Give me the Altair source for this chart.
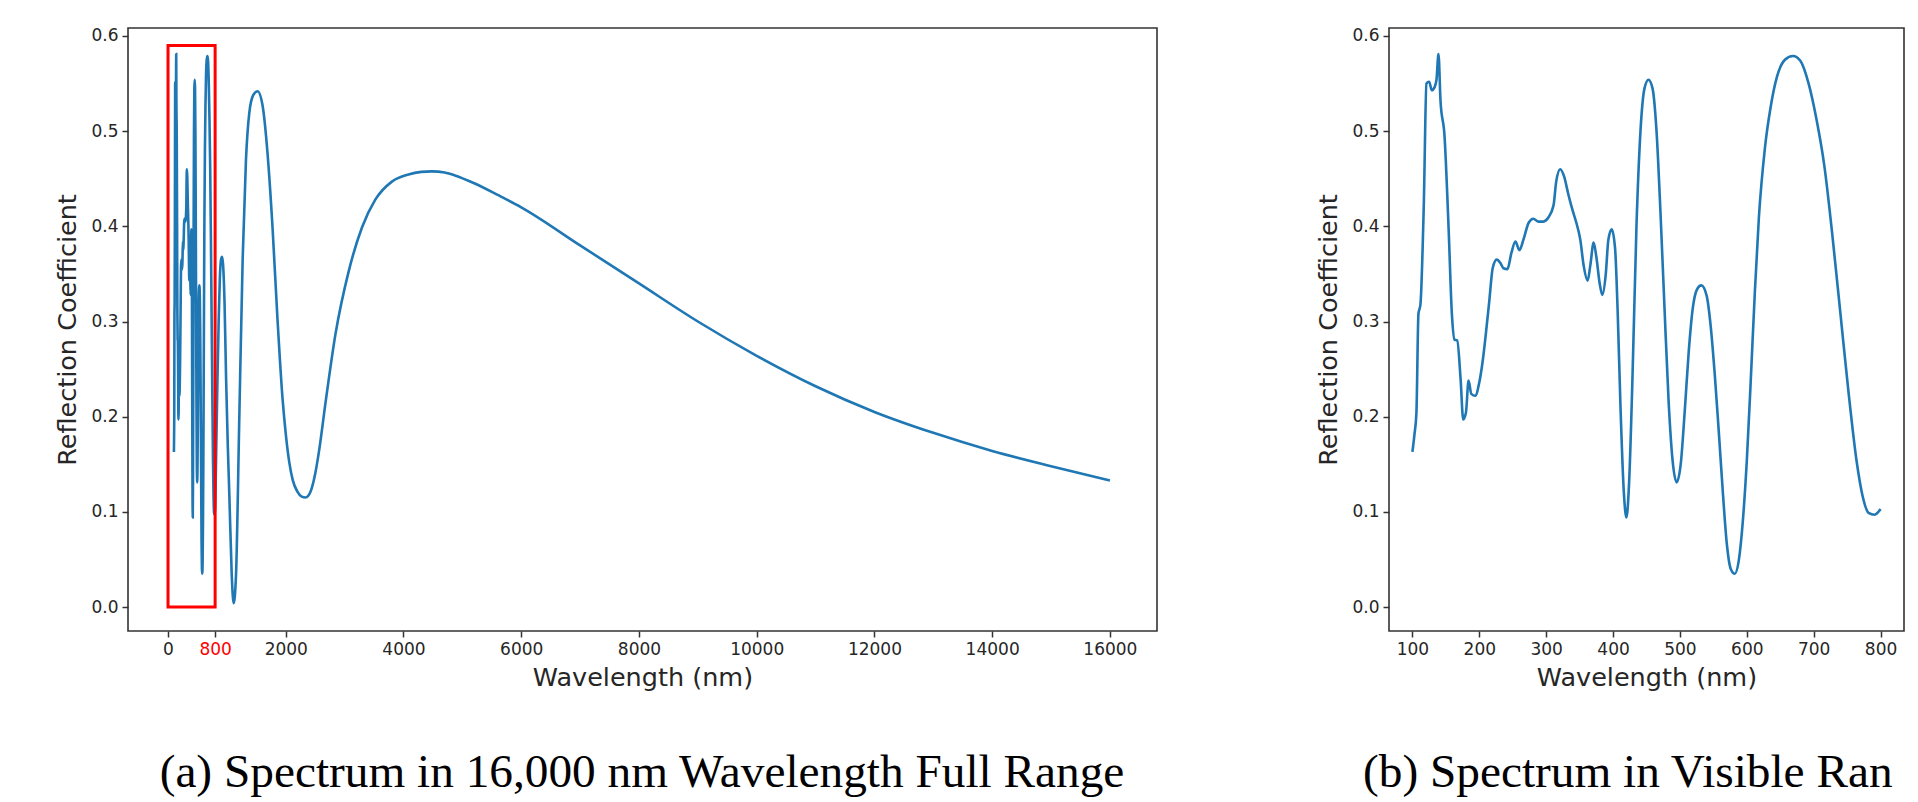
import altair as alt
import pandas as pd

# ---- data ----
vis_wl = [100, 103, 106, 109, 112, 117, 121, 125, 129, 133, 136, 139, 142, 148, 154, 159, 163, 167,
          172, 176, 180, 184, 188, 194, 200, 205, 211, 215, 220, 226, 232, 236, 242, 248, 254, 260,
          266, 274, 281, 288, 296, 303, 311, 315, 321, 327, 333, 339, 345, 351, 356, 362, 366, 371,
          375, 380, 384, 389, 393, 398, 403, 407, 411, 416, 420, 424, 429, 435, 441, 447, 453, 459,
          465, 471, 477, 483, 489, 495, 501, 507, 513, 519, 525, 532, 540, 546, 552, 558, 564, 570,
          576, 582, 588, 594, 600, 606, 612, 618, 627, 636, 645, 657, 669, 680, 692, 704, 716, 728,
          740, 752, 764, 773, 782, 791, 800]
vis_r = [0.163, 0.181, 0.204, 0.308, 0.318, 0.422, 0.550, 0.552, 0.543, 0.546, 0.554, 0.581, 0.532,
         0.495, 0.400, 0.308, 0.281, 0.280, 0.240, 0.197, 0.204, 0.238, 0.224, 0.222, 0.236, 0.258,
         0.295, 0.322, 0.356, 0.365, 0.361, 0.356, 0.355, 0.372, 0.384, 0.375, 0.386, 0.404, 0.408,
         0.405, 0.405, 0.409, 0.422, 0.447, 0.460, 0.452, 0.434, 0.418, 0.404, 0.386, 0.359, 0.343,
         0.359, 0.383, 0.368, 0.340, 0.328, 0.349, 0.386, 0.397, 0.377, 0.308, 0.213, 0.122, 0.094,
         0.131, 0.240, 0.400, 0.500, 0.545, 0.554, 0.545, 0.500, 0.413, 0.313, 0.217, 0.154, 0.131,
         0.149, 0.204, 0.267, 0.313, 0.333, 0.338, 0.327, 0.295, 0.245, 0.185, 0.122, 0.067, 0.040,
         0.035, 0.049, 0.090, 0.154, 0.240, 0.331, 0.409, 0.482, 0.527, 0.557, 0.575, 0.579, 0.574,
         0.551, 0.513, 0.463, 0.390, 0.308, 0.226, 0.154, 0.117, 0.099, 0.097, 0.103]

ir_wl = [820, 840, 860, 880, 900, 918, 935, 960, 986, 1015, 1042, 1082, 1115, 1155, 1211, 1268,
         1324, 1380, 1448, 1521, 1606, 1690, 1775, 1859, 1944, 2000, 2060, 2120, 2200, 2270, 2338,
         2420, 2500, 2563, 2676, 2845, 3070, 3296, 3521, 3803, 4085, 4300, 4479, 4700, 4873, 5211,
         5600, 6000, 7000, 8000, 9000, 10000, 11000, 12000, 13000, 14000, 15000, 16000]
ir_r = [0.170, 0.240, 0.300, 0.345, 0.365, 0.368, 0.360, 0.320, 0.241, 0.170, 0.117, 0.034, 0.004,
        0.034, 0.200, 0.366, 0.470, 0.519, 0.538, 0.542, 0.527, 0.477, 0.399, 0.303, 0.220, 0.182,
        0.152, 0.133, 0.121, 0.116, 0.115, 0.121, 0.140, 0.163, 0.215, 0.287, 0.353, 0.399, 0.428,
        0.447, 0.4545, 0.4572, 0.4578, 0.4565, 0.4535, 0.445, 0.433, 0.420, 0.380, 0.340, 0.300,
        0.264, 0.232, 0.205, 0.183, 0.164, 0.148, 0.133]

box_x = [0, 800]
box_y = [0.0, 0.59]

full_ticks = [0, 800, 2000, 4000, 6000, 8000, 10000, 12000, 14000, 16000]
vis_ticks = [100, 200, 300, 400, 500, 600, 700, 800]
y_ticks = [0.0, 0.1, 0.2, 0.3, 0.4, 0.5, 0.6]
captions = ["(a) Spectrum in 16,000 nm Wavelength Full Range", "(b) Spectrum in Visible Range"]

full_df = pd.DataFrame({"wl": vis_wl + ir_wl, "r": vis_r + ir_r})
vis_df = pd.DataFrame({"wl": vis_wl, "r": vis_r})
box_df = pd.DataFrame({"x": [box_x[0]], "x2": [box_x[1]], "y": [box_y[0]], "y2": [box_y[1]]})

BLUE = "#1f77b4"
TXT = "#262626"
yscale = alt.Scale(domain=[-0.0252, 0.6084], nice=False, zero=False)
xscale_full = alt.Scale(domain=[-680, 16800], nice=False, zero=False)
xscale_vis = alt.Scale(domain=[65, 835], nice=False, zero=False)

common = dict(grid=False, domain=False, tickSize=6, tickColor="#333333", tickWidth=1.5,
              labelFontSize=17, labelColor=TXT, labelPadding=4, labelFont="DejaVu Sans",
              titleFontSize=25.5, titleFontWeight="normal", titleColor=TXT, titleFont="DejaVu Sans")

yaxis = alt.Axis(values=y_ticks, format=".1f", title="Reflection Coefficient", titlePadding=10, **common)
xaxis_full = alt.Axis(values=full_ticks, format="d", title="Wavelength (nm)", titlePadding=8,
                      labelColor={"condition": {"test": "datum.value == 800", "value": "#ff0000"},
                                  "value": TXT},
                      **{k: v for k, v in common.items() if k != "labelColor"})
xaxis_vis = alt.Axis(values=vis_ticks, format="d", title="Wavelength (nm)", titlePadding=8, **common)

W_LEFT, W_RIGHT, H = 1029, 515, 603

left_line = alt.Chart(full_df).mark_line(color=BLUE, strokeWidth=2.6, interpolate="monotone").encode(
    x=alt.X("wl:Q", scale=xscale_full, axis=xaxis_full),
    y=alt.Y("r:Q", scale=yscale, axis=yaxis),
)
left_box = alt.Chart(box_df).mark_rect(fillOpacity=0, stroke="#ff0000", strokeWidth=3).encode(
    x=alt.X("x:Q", scale=xscale_full, axis=xaxis_full),
    x2="x2",
    y=alt.Y("y:Q", scale=yscale, axis=yaxis),
    y2="y2",
)
left_cap = alt.Chart(pd.DataFrame({"t": [captions[0]]})).mark_text(
    font="Liberation Serif", fontSize=47.3, align="center", baseline="middle", color="black"
).encode(text="t:N", x=alt.value(514), y=alt.value(745))

left = alt.layer(left_line, left_box, left_cap).properties(width=W_LEFT, height=H)

right_line = alt.Chart(vis_df).mark_line(color=BLUE, strokeWidth=2.6, interpolate="monotone").encode(
    x=alt.X("wl:Q", scale=xscale_vis, axis=xaxis_vis),
    y=alt.Y("r:Q", scale=yscale, axis=yaxis),
)
right_cap = alt.Chart(pd.DataFrame({"t": [captions[1]]})).mark_text(
    font="Liberation Serif", fontSize=47.3, align="left", baseline="middle", color="black",
    limit=548, ellipsis="\u200b"
).encode(text="t:N", x=alt.value(-26), y=alt.value(745))

right = alt.layer(right_line, right_cap).properties(width=W_RIGHT, height=H)

chart = alt.hconcat(left, right, spacing=158).properties(
    padding={"left": 47, "top": 18, "right": 0, "bottom": 0}
).configure_view(stroke="#333333", strokeWidth=1.6)

chart.save("out.html", embed_options={"renderer": "svg", "actions": False})
